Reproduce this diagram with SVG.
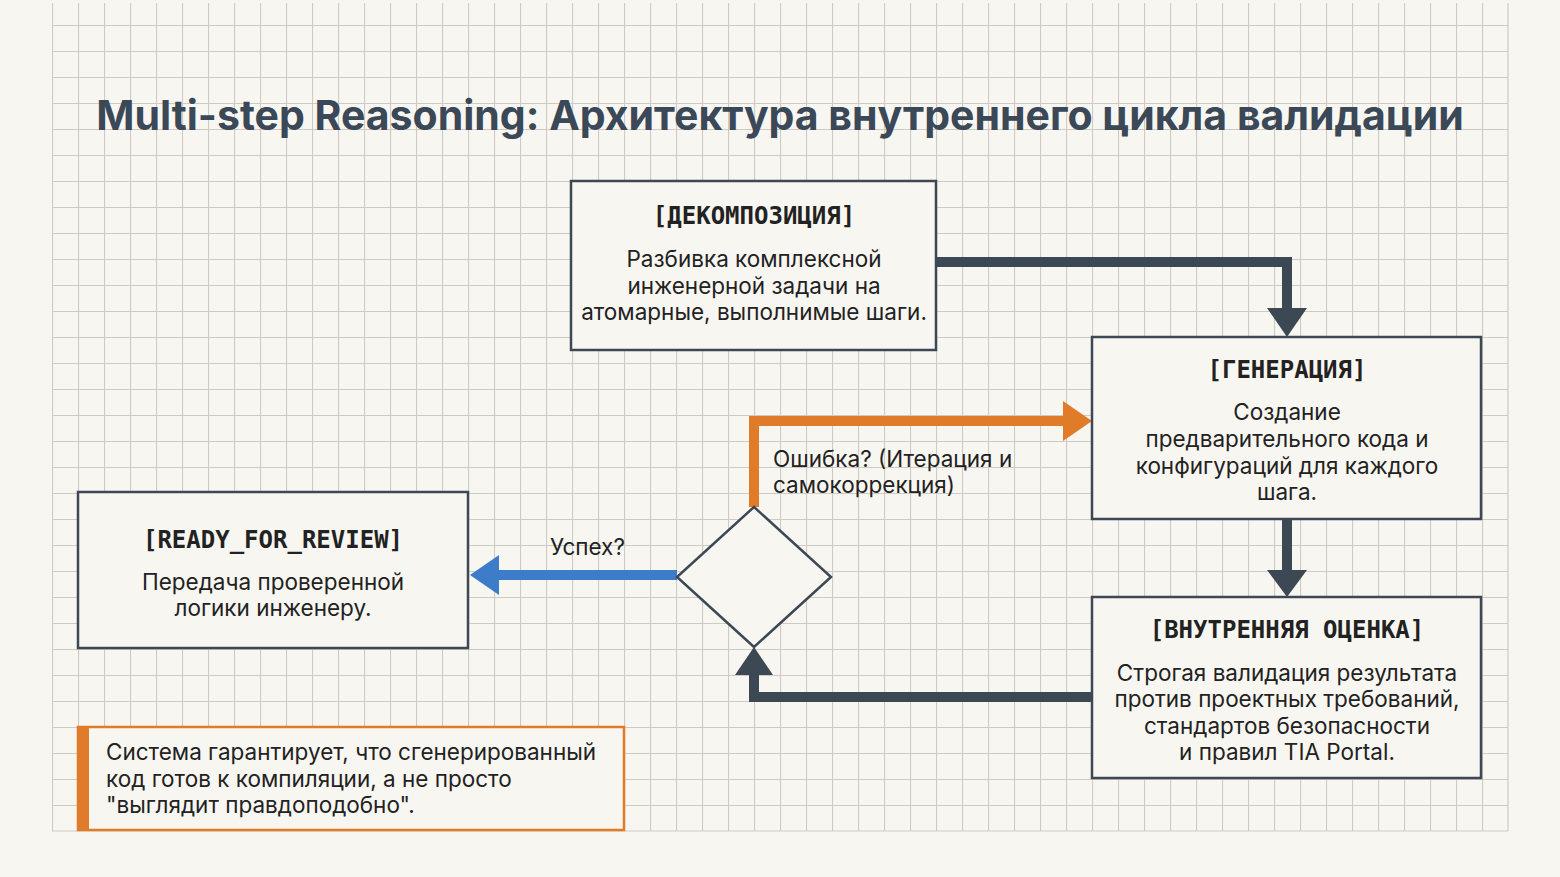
<svg xmlns="http://www.w3.org/2000/svg" width="1560" height="877" viewBox="0 0 1560 877">
<defs>
<pattern id="grid" x="0" y="25" width="26" height="26" patternUnits="userSpaceOnUse"><path d="M0 0.5H26M0.5 0V26" fill="none" stroke="#cfcac3" stroke-width="1.2"/></pattern>
<style>
.box{fill:#f8f6f1;stroke:#3d4855;stroke-width:2.5}
.h{font-family:"DejaVu Sans Mono",monospace;font-weight:bold;font-size:24px;fill:#222;text-anchor:middle}
.t{font-family:"Inter","Liberation Sans",sans-serif;font-size:22.5px;fill:#222;text-anchor:middle}
.l{font-family:"Inter","Liberation Sans",sans-serif;font-size:22.5px;fill:#222}
.c{fill:none;stroke-width:10}
</style>
</defs>
<rect width="1560" height="877" fill="#f8f6f1"/>
<rect x="52" y="3" width="1456" height="828" fill="url(#grid)"/>
<path d="M1508 3V831M52 831H1508" stroke="#cfcac3" stroke-width="1.2"/>
<text x="780" y="130" text-anchor="middle" font-family="Inter,'Liberation Sans',sans-serif" font-weight="bold" font-size="41" fill="#3a4858">Multi-step Reasoning: Архитектура внутреннего цикла валидации</text>
<g id="connectors">
<path class="c" stroke="#3d4855" d="M936 262H1287V312"/><path fill="#3d4855" d="M1267 308H1307L1287 337Z"/>
<path class="c" stroke="#3d4855" d="M1287 519V572"/><path fill="#3d4855" d="M1267 570H1307L1287 597Z"/>
<path class="c" stroke="#3d4855" d="M1092 697H754V672"/><path fill="#3d4855" d="M735 675H773L754 647Z"/>
<path class="c" stroke="#e07b2a" d="M754 507V421H1067"/><path fill="#e07b2a" d="M1063 401V441L1092 421Z"/>
<path class="c" stroke="#3d7cc9" d="M677 575H495"/><path fill="#3d7cc9" d="M499 555V595L470 575Z"/>
<text class="l" x="550" y="555">Успех?</text>
<text class="l" x="773" y="467">Ошибка? (Итерация и</text>
<text class="l" x="773" y="493">самокоррекция)</text>
</g>
<g id="decomp"><rect class="box" x="571" y="181" width="365" height="169"/>
<text class="h" x="754" y="224">[ДЕКОМПОЗИЦИЯ]</text>
<text class="t" x="754" y="267">Разбивка комплексной</text><text class="t" x="754" y="294">инженерной задачи на</text><text class="t" x="754" y="320">атомарные, выполнимые шаги.</text></g>
<g id="gen"><rect class="box" x="1092" y="337" width="389" height="182"/>
<text class="h" x="1287" y="378">[ГЕНЕРАЦИЯ]</text>
<text class="t" x="1287" y="420">Создание</text><text class="t" x="1287" y="447">предварительного кода и</text><text class="t" x="1287" y="474">конфигураций для каждого</text><text class="t" x="1287" y="500">шага.</text></g>
<g id="eval"><rect class="box" x="1092" y="597" width="389" height="181"/>
<text class="h" x="1287" y="638">[ВНУТРЕННЯЯ ОЦЕНКА]</text>
<text class="t" x="1287" y="681">Строгая валидация результата</text><text class="t" x="1287" y="707">против проектных требований,</text><text class="t" x="1287" y="734">стандартов безопасности</text><text class="t" x="1287" y="760">и правил TIA Portal.</text></g>
<g id="ready"><rect class="box" x="78" y="492" width="390" height="156"/>
<text class="h" x="273" y="548">[READY_FOR_REVIEW]</text>
<text class="t" x="273" y="590">Передача проверенной</text><text class="t" x="273" y="616">логики инженеру.</text></g>
<g id="decision"><path d="M754 507L831 577L754 647L677 577Z" fill="#f8f6f1" stroke="#3d4855" stroke-width="2.5"/></g>
<g id="note"><rect x="78" y="727" width="546" height="103" fill="#f8f6f1" stroke="#e07b2a" stroke-width="2.5"/><rect x="78" y="727" width="11" height="103" fill="#e07b2a"/>
<text class="l" x="106" y="760">Система гарантирует, что сгенерированный</text><text class="l" x="106" y="787">код готов к компиляции, а не просто</text><text class="l" x="106" y="813">"выглядит правдоподобно".</text></g>
</svg>
